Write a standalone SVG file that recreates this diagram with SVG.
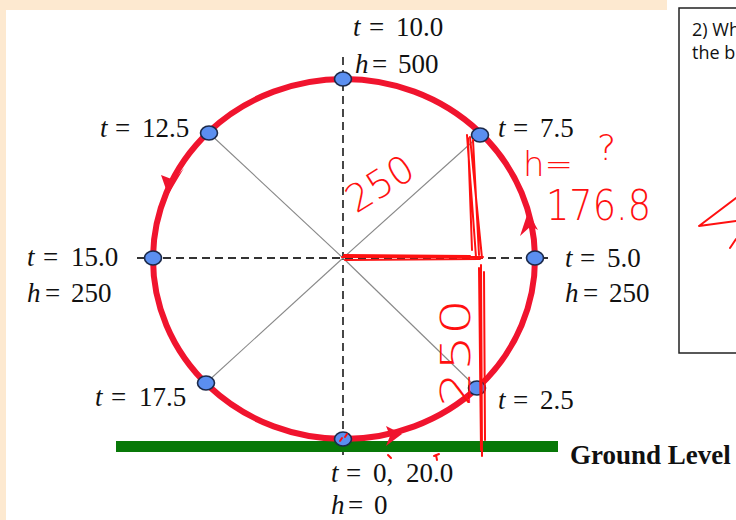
<svg xmlns="http://www.w3.org/2000/svg" width="736" height="520" viewBox="0 0 736 520">
<style>
.lbl{font-family:"Liberation Serif","Times New Roman",serif;font-size:27px;fill:#111}
.it{font-style:italic}
.gl{font-family:"Liberation Serif","Times New Roman",serif;font-size:27px;font-weight:bold;fill:#111}
.node{fill:#5b8ff0;stroke:#1c2a4a;stroke-width:1.6}
.dash{stroke:#333;stroke-width:1.8;stroke-dasharray:8 5;fill:none}
.diag{stroke:#888;stroke-width:1.1;fill:none}
.hand{stroke:#ff1010;stroke-width:2;fill:none;stroke-linecap:round;stroke-linejoin:round}
.htxt{font-family:"DejaVu Sans",sans-serif;font-weight:200;fill:#ff1010}
.box{font-family:"Open Sans","Liberation Sans",sans-serif;font-size:18px;fill:#111}
</style>
<rect x="0" y="0" width="736" height="520" fill="#ffffff"/>
<rect x="0" y="0" width="667" height="10" fill="#fde9d0"/>
<rect x="0" y="0" width="6" height="520" fill="#fde9d0"/>
<g id="question-box">
<rect x="679" y="8" width="70" height="345" fill="#fff" stroke="#222" stroke-width="1.5"/>
<text class="box" x="692" y="36">2) Wh</text>
<text class="box" x="692" y="59">the b</text>
</g>
<g id="connectors">
<line class="dash" x1="343" y1="57" x2="343" y2="456"/>
<line class="dash" x1="137" y1="258" x2="552" y2="258"/>
<line class="diag" x1="343" y1="258" x2="209" y2="133"/>
<line class="diag" x1="343" y1="258" x2="480" y2="135"/>
<line class="diag" x1="343" y1="258" x2="206" y2="383"/>
<line class="diag" x1="343" y1="258" x2="477" y2="388"/>
</g>
<g id="ground">
<rect x="116" y="441" width="442" height="11" fill="#087808"/>
<text class="gl" x="570" y="464">Ground Level</text>
</g>
<g id="wheel">
<ellipse cx="344" cy="259" rx="191" ry="180" fill="none" stroke="#f0142e" stroke-width="6"/>
<path d="M168,195 L161,175 L174,180 L184,168 Z" fill="#f0142e"/>
<path d="M528,212 L538,230 L531,226 L520,236 Z" fill="#f0142e"/>
<path d="M402,434 L386,446 L390,436 L386,426 Z" fill="#f0142e"/>
</g>
<g id="n-top"><ellipse class="node" cx="343" cy="79" rx="8.5" ry="7"/>
<text class="lbl" y="36"><tspan class="it" x="353">t</tspan><tspan x="369">=</tspan><tspan x="396">10.0</tspan></text>
<text class="lbl" y="73"><tspan class="it" x="355">h</tspan><tspan x="372">=</tspan><tspan x="398">500</tspan></text>
</g>
<g id="n-125"><ellipse class="node" cx="209" cy="133" rx="8.5" ry="7"/>
<text class="lbl" y="137"><tspan class="it" x="100">t</tspan><tspan x="115">=</tspan><tspan x="142">12.5</tspan></text>
</g>
<g id="n-75"><ellipse class="node" cx="480" cy="135" rx="8.5" ry="7"/>
<text class="lbl" y="137"><tspan class="it" x="498">t</tspan><tspan x="513">=</tspan><tspan x="540">7.5</tspan></text>
</g>
<g id="n-150"><ellipse class="node" cx="153" cy="258" rx="8.5" ry="7"/>
<text class="lbl" y="266"><tspan class="it" x="27">t</tspan><tspan x="43">=</tspan><tspan x="71">15.0</tspan></text>
<text class="lbl" y="302"><tspan class="it" x="27">h</tspan><tspan x="45">=</tspan><tspan x="71">250</tspan></text>
</g>
<g id="n-50"><ellipse class="node" cx="535" cy="258" rx="8.5" ry="7"/>
<text class="lbl" y="267"><tspan class="it" x="565">t</tspan><tspan x="580">=</tspan><tspan x="607">5.0</tspan></text>
<text class="lbl" y="302"><tspan class="it" x="565">h</tspan><tspan x="583">=</tspan><tspan x="609">250</tspan></text>
</g>
<g id="n-175"><ellipse class="node" cx="206" cy="383" rx="8.5" ry="7"/>
<text class="lbl" y="406"><tspan class="it" x="95">t</tspan><tspan x="111">=</tspan><tspan x="139">17.5</tspan></text>
</g>
<g id="n-25"><ellipse class="node" cx="477" cy="388" rx="8.5" ry="7"/>
<text class="lbl" y="409"><tspan class="it" x="498">t</tspan><tspan x="513">=</tspan><tspan x="540">2.5</tspan></text>
</g>
<g id="n-0"><ellipse class="node" cx="343" cy="439" rx="8.5" ry="7"/>
<text class="lbl" y="482"><tspan class="it" x="331">t</tspan><tspan x="346">=</tspan><tspan x="373">0,</tspan><tspan x="406">20.0</tspan></text>
<text class="lbl" y="514"><tspan class="it" x="331">h</tspan><tspan x="348">=</tspan><tspan x="374">0</tspan></text>
</g>
<g id="annotations">
<path class="hand" d="M342,257 L483,257 M345,260 L480,259 M344,255 L470,256"/>
<path class="hand" d="M467,135 L476,257 M470,137 L482,258 M473,140 L479,255 M468,138 L472,250"/>
<path class="hand" d="M481,265 L482,456 M484,272 L485,440 M479,268 L481,450"/>
<path class="hand" d="M340,441 L342,438 M345,437 L347,434"/>
<path class="hand" d="M388,455 L391,458 M434,456 L439,454 M436,455 L437,460"/>
<path class="hand" d="M736,198 L699,226 L736,221 M730,248 L736,239"/>
<text class="htxt" font-size="38" transform="translate(356,214) rotate(-32)">250</text>
<text class="htxt" font-size="34" x="523" y="176">h=</text>
<text class="htxt" font-size="36" x="597" y="160">?</text>
<text class="htxt" font-size="42" x="546" y="220" textLength="105" lengthAdjust="spacingAndGlyphs">176.8</text>
<text class="htxt" font-size="40" transform="translate(470,407) rotate(-90)" textLength="108" lengthAdjust="spacingAndGlyphs">250</text>
</g>
</svg>
